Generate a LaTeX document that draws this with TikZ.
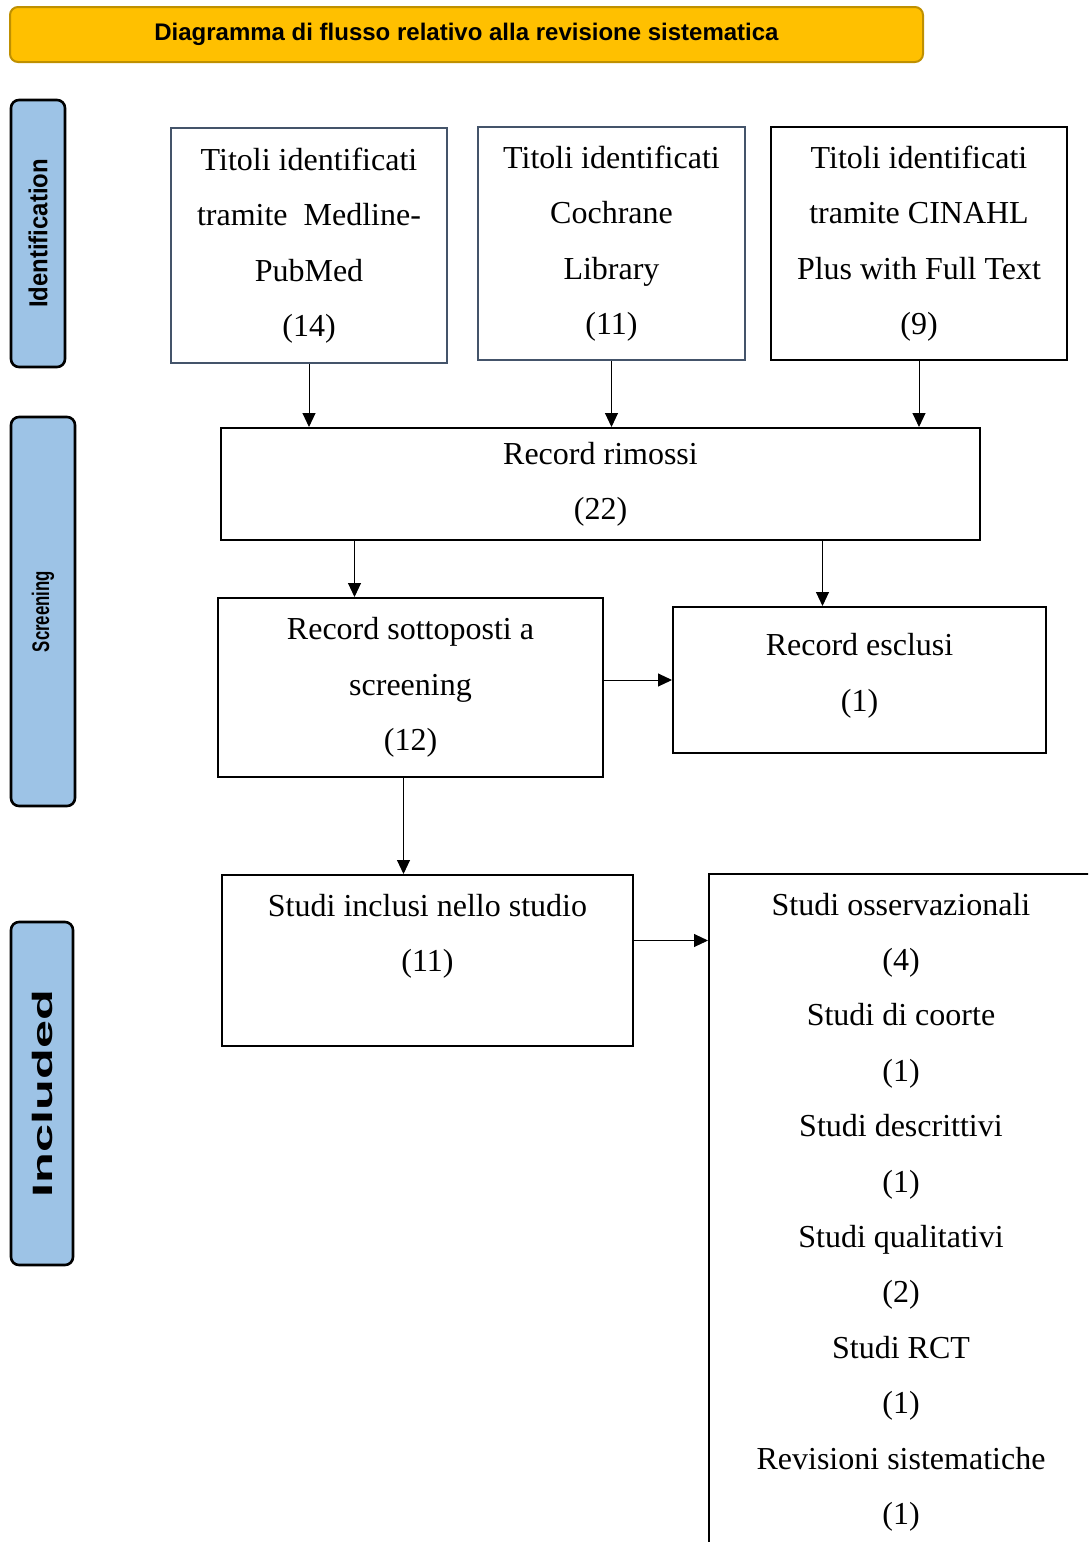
\documentclass[tikz,border=0pt]{standalone}
\usepackage{fontspec}
\setmainfont{Liberation Serif}
\newfontfamily\arialfont{Liberation Sans}
\usetikzlibrary{arrows.meta}
\definecolor{titlefill}{HTML}{FFC000}
\definecolor{titledraw}{HTML}{BF9000}
\definecolor{phasefill}{HTML}{9DC3E6}
\definecolor{slate}{HTML}{44546A}
\begin{document}
\begin{tikzpicture}[x=0.5pt, y=-0.5pt,
    box/.style={draw, line width=1pt, align=center, inner sep=0pt,
                font=\fontsize{16pt}{27.7pt}\selectfont},
    phase/.style={draw, line width=1.3pt, fill=phasefill, rounded corners=4pt,
                  rotate=90, inner sep=0pt, font=\arialfont\bfseries},
    arr/.style={line width=0.5pt, -{Triangle[length=7pt,width=6.5pt]}}]
    \useasboundingbox (0,0) rectangle (1088,1542);
    \clip (0,0) rectangle (1088,1542);

    \node[draw=titledraw, line width=1pt, fill=titlefill, rounded corners=4pt,
          minimum width=456.5pt, minimum height=27.5pt,
          font=\arialfont\bfseries\fontsize{12pt}{14pt}\selectfont] (title) at (466.5,34.5)
          {Diagramma di flusso relativo alla revisione sistematica};

    \node[phase, minimum width=133.5pt, minimum height=27pt] (ident) at (38,233.5)
          {\fontsize{13pt}{15pt}\selectfont\scalebox{0.92}[1]{Identification}};
    \node[phase, minimum width=194.5pt, minimum height=32pt] (screen) at (43,611.5)
          {\fontsize{12pt}{14pt}\selectfont\scalebox{0.7}[1]{Screening}};
    \node[phase, minimum width=171.5pt, minimum height=31pt] (incl) at (42,1093.5)
          {\fontsize{14pt}{16pt}\selectfont\scalebox{1.8}[1]{Included}};

    \node[box, draw=slate, minimum width=138pt, minimum height=117.5pt] (medline) at (309,245.5)
          {Titoli identificati\\tramite~ Medline-\\PubMed\\(14)};
    \node[box, draw=slate, minimum width=133.5pt, minimum height=116.5pt] (cochrane) at (611.5,243.5)
          {Titoli identificati\\Cochrane\\Library\\(11)};
    \node[box, minimum width=148pt, minimum height=116.5pt] (cinahl) at (919,243.5)
          {Titoli identificati\\tramite CINAHL\\Plus with Full Text\\(9)};

    \node[box, minimum width=379.5pt, minimum height=56pt] (rimossi) at (600.5,484)
          {Record rimossi\\(22)};
    \node[box, minimum width=192.5pt, minimum height=89.5pt] (sottoposti) at (410.5,687.5)
          {Record sottoposti a\\screening\\(12)};
    \node[box, minimum width=186.5pt, minimum height=73pt] (esclusi) at (859.5,680)
          {Record esclusi\\(1)\\[-20pt]};
    \node[box, minimum width=205.5pt, minimum height=85.5pt] (inclusi) at (427.5,960.5)
          {Studi inclusi nello studio\\(11)\\\mbox{}};
    \node[box, minimum width=192pt, minimum height=338pt] (studi) at (901,1212)
          {Studi osservazionali\\(4)\\Studi di coorte\\(1)\\Studi descrittivi\\(1)\\
           Studi qualitativi\\(2)\\Studi RCT\\(1)\\Revisioni sistematiche\\(1)};

    \draw[arr] (medline.south) -- (medline.south |- rimossi.north);
    \draw[arr] (cochrane.south) -- (cochrane.south |- rimossi.north);
    \draw[arr] (cinahl.south) -- (cinahl.south |- rimossi.north);
    \draw[arr] ([xshift=-28pt]sottoposti.north |- rimossi.south) -- ([xshift=-28pt]sottoposti.north);
    \draw[arr] ([xshift=-18.5pt]esclusi.north |- rimossi.south) -- ([xshift=-18.5pt]esclusi.north);
    \draw[arr] (sottoposti.east |- esclusi.west) -- (esclusi.west);
    \draw[arr] ([xshift=-3.5pt]sottoposti.south) -- ([xshift=-3.5pt]sottoposti.south |- inclusi.north);
    \draw[arr] ([yshift=10pt]inclusi.east) -- ([yshift=10pt]inclusi.east -| studi.west);
\end{tikzpicture}
\end{document}
